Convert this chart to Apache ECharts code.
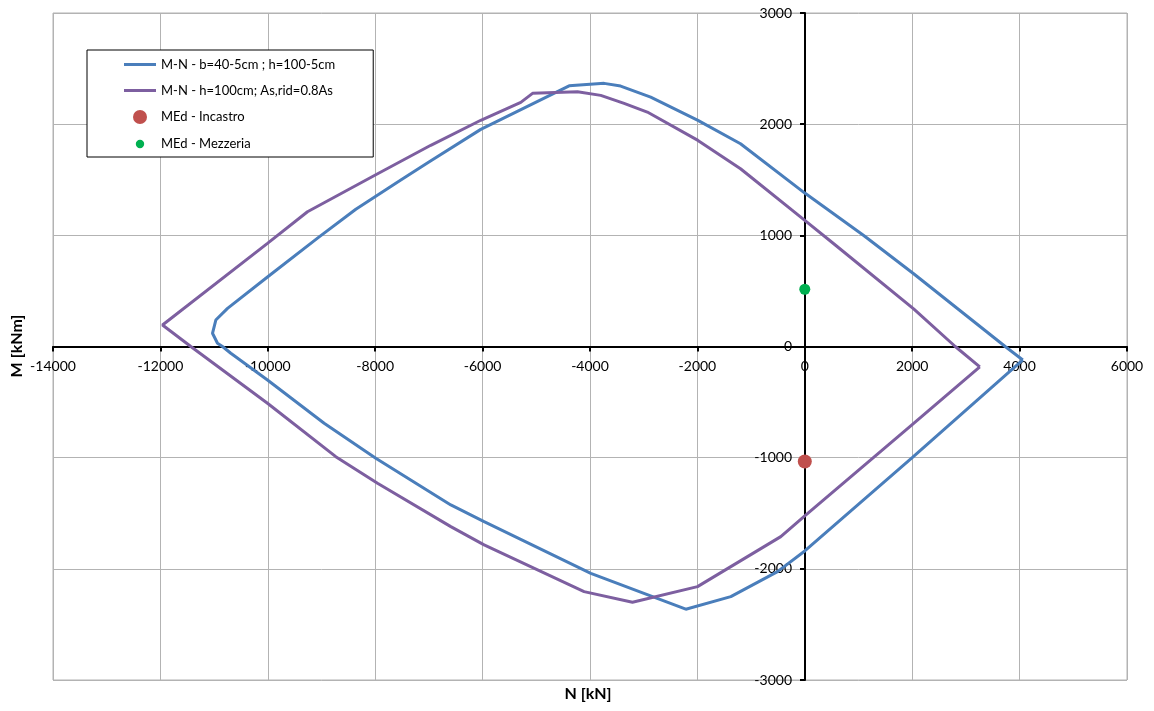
<!DOCTYPE html>
<html>
<head>
<meta charset="utf-8">
<script src="https://cdn.jsdelivr.net/npm/echarts@6/dist/echarts.min.js"></script>
<style>
  html, body { margin: 0; padding: 0; background: #ffffff; }
  #chart { width: 1154px; height: 711px; }
</style>
</head>
<body>
<div id="chart"></div>
<script>
// Interaction domain M-N, pairs of [N kN, M kNm] going round each closed curve
const domainReduced = [
  [4060, -121], [3732, 0], [2027, 654], [1097, 999], [0, 1380], [-1197, 1824],
  [-1990, 2034], [-2870, 2244], [-3429, 2343], [-3737, 2367], [-4389, 2345],
  [-6034, 1953], [-7000, 1660], [-7523, 1497], [-8361, 1235], [-9074, 975],
  [-10006, 625], [-10750, 343], [-10968, 238], [-11030, 119], [-10937, 29],
  [-10844, 0], [-10689, -61], [-10006, -301], [-8951, -691], [-7989, -1005],
  [-6592, -1425], [-5972, -1576], [-3985, -2040], [-2216, -2363], [-1378, -2250],
  [-508, -2025], [0, -1839], [2000, -1000], [4060, -121]
];

const domainFull = [
  [3259, -184], [2802, 0], [2027, 339], [539, 924], [0, 1134], [-1197, 1599],
  [-1990, 1854], [-2933, 2109], [-3365, 2187], [-3800, 2259], [-4233, 2291],
  [-5070, 2277], [-5289, 2196], [-6034, 2035], [-6965, 1810], [-7989, 1545],
  [-9261, 1212], [-10006, 928], [-11961, 193], [-11434, 0], [-10006, -511],
  [-8734, -991], [-7957, -1230], [-6592, -1620], [-5972, -1785], [-4110, -2205],
  [-3209, -2301], [-1998, -2160], [-447, -1710], [0, -1524], [2000, -702],
  [3259, -184]
];

// Design actions
const medIncastro = [[0, -1035]];
const medMezzeria = [[0, 515]];

const seriesNames = [
  'M-N - b=40-5cm ; h=100-5cm',
  'M-N - h=100cm; As,rid=0.8As',
  'MEd - Incastro',
  'MEd - Mezzeria'
];

const nTicks = { min: -14000, max: 6000, step: 2000 };
const mTicks = { min: -3000, max: 3000, step: 1000 };

const FONT = 'Lato';
const GRID = { left: 53, right: 27, top: 13, bottom: 31 };
const LINE_ICON = 'path://M0,0H32V3H0Z';

const chart = echarts.init(document.getElementById('chart'), null, { renderer: 'canvas' });

function axisCommon() {
  return {
    type: 'value',
    axisLine: { onZero: false, lineStyle: { color: '#000000', width: 2 } },
    axisTick: { show: true, inside: false, length: 5, lineStyle: { color: '#000000', width: 2 } },
    axisLabel: {
      fontFamily: FONT, fontSize: 14, color: '#000000', margin: 13,
      formatter: v => String(v)
    },
    splitLine: { show: true, lineStyle: { color: '#b3b3b3', width: 1 } }
  };
}

chart.setOption({
  backgroundColor: '#ffffff',
  animation: false,
  textStyle: { fontFamily: FONT },
  grid: Object.assign({ show: true, borderColor: '#b3b3b3', borderWidth: 1 }, GRID),
  legend: {
    orient: 'vertical',
    left: 87, top: 50,
    padding: [8, 38, 6, 37],
    backgroundColor: '#ffffff',
    borderColor: '#000000', borderWidth: 1,
    itemWidth: 32, itemHeight: 14, itemGap: 13,
    textStyle: { fontFamily: FONT, fontSize: 13, color: '#000000' },
    data: [
      { name: seriesNames[0], icon: LINE_ICON },
      { name: seriesNames[1], icon: LINE_ICON },
      { name: seriesNames[2], icon: 'circle' },
      { name: seriesNames[3], icon: 'path://M0,0M20,20M10,4A6,6 0 1,1 9.99,4Z' }
    ]
  },
  xAxis: Object.assign(axisCommon(), {
    position: 'bottom',
    min: nTicks.min, max: nTicks.max, interval: nTicks.step
  }),
  yAxis: Object.assign(axisCommon(), {
    position: 'left',
    min: mTicks.min, max: mTicks.max, interval: mTicks.step
  }),
  graphic: [
    {
      type: 'text', x: 588, y: 694,
      style: {
        text: 'N [kN]', font: 'bold 16px ' + FONT, fill: '#000000',
        textAlign: 'center', textVerticalAlign: 'middle'
      }
    },
    {
      type: 'text', x: 17, y: 346, rotation: Math.PI / 2,
      style: {
        text: 'M [kNm]', font: 'bold 16px ' + FONT, fill: '#000000',
        textAlign: 'center', textVerticalAlign: 'middle'
      }
    }
  ],
  series: [
    {
      name: seriesNames[0], type: 'line', data: domainReduced,
      showSymbol: false, symbol: 'none',
      lineStyle: { color: '#4A7EBB', width: 3 }, itemStyle: { color: '#4A7EBB' },
      z: 2
    },
    {
      name: seriesNames[1], type: 'line', data: domainFull,
      showSymbol: false, symbol: 'none',
      lineStyle: { color: '#7D5FA0', width: 3 }, itemStyle: { color: '#7D5FA0' },
      z: 3
    },
    {
      name: seriesNames[2], type: 'scatter', data: medIncastro,
      symbol: 'circle', symbolSize: 14,
      itemStyle: { color: '#C0504D', opacity: 1 }, z: 4
    },
    {
      name: seriesNames[3], type: 'scatter', data: medMezzeria,
      symbol: 'circle', symbolSize: 11,
      itemStyle: { color: '#00B050', opacity: 1 }, z: 4
    }
  ]
});

// Move both axes (line, ticks and labels) onto the origin of the plot
const origin = chart.convertToPixel({ gridIndex: 0 }, [0, 0]);
const chartHeight = chart.getHeight();
chart.setOption({
  yAxis: { offset: -(origin[0] - GRID.left) },
  xAxis: { offset: -((chartHeight - GRID.bottom) - origin[1]) }
});
</script>
</body>
</html>
